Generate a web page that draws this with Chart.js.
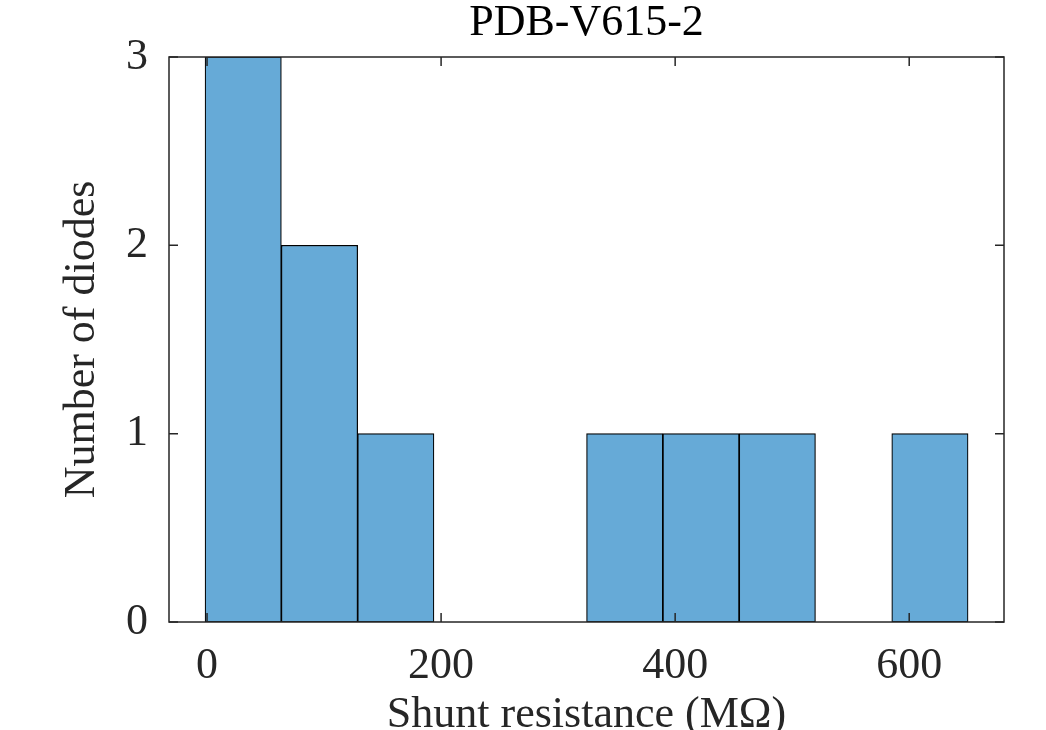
<!DOCTYPE html>
<html lang="en">
  <head>
    <meta charset="UTF-8" />
    <title>PDB-V615-2</title>
    <style>
      body {
        margin: 0;
        background: #fff;
      }
      .chart-box {
        width: 1046px;
        height: 730px;
      }
    </style>
  </head>
  <body>
    <div class="chart-box">
      <canvas id="histChart"></canvas>
    </div>

    <script src="https://cdn.jsdelivr.net/npm/chart.js"></script>
    <script>
      // histogram bins (shunt resistance, MOhm) and counts per bin
      const binEdges = [-1.7, 63.5, 128.7, 193.9, 259.1, 324.3, 389.5, 454.7, 519.9, 585.1, 650.3];
      const counts = [3, 2, 1, 0, 0, 1, 1, 1, 0, 1];
      const xTicks = [0, 200, 400, 600];
      const yTicks = [0, 1, 2, 3];

      const titleText = "PDB-V615-2";
      const xLabel = "Shunt resistance (M\u03A9)";
      const yLabel = "Number of diodes";

      const axisColor = "#262626";
      const fontFamily = "'Liberation Serif', 'Times New Roman', serif";

      const points = counts.map((c, i) => ({
        x: (binEdges[i] + binEdges[i + 1]) / 2,
        y: c > 0 ? c : null,
      }));

      // box around the plot, inward ticks on all four sides, title over the plot
      const matlabAxes = {
        id: "matlabAxes",
        afterDraw(chart) {
          const { ctx, chartArea: a, scales } = chart;
          const len = 9;
          ctx.save();
          ctx.strokeStyle = axisColor;
          ctx.lineWidth = 1.5;
          ctx.strokeRect(a.left, a.top, a.right - a.left, a.bottom - a.top);
          ctx.beginPath();
          xTicks.forEach((v) => {
            const px = scales.x.getPixelForValue(v);
            ctx.moveTo(px, a.bottom);
            ctx.lineTo(px, a.bottom - len);
            ctx.moveTo(px, a.top);
            ctx.lineTo(px, a.top + len);
          });
          yTicks.forEach((v) => {
            const py = scales.y.getPixelForValue(v);
            ctx.moveTo(a.left, py);
            ctx.lineTo(a.left + len, py);
            ctx.moveTo(a.right, py);
            ctx.lineTo(a.right - len, py);
          });
          ctx.stroke();

          ctx.fillStyle = "#000";
          ctx.font = "44px " + fontFamily;
          ctx.textAlign = "center";
          ctx.textBaseline = "alphabetic";
          ctx.fillText(titleText, (a.left + a.right) / 2, 35);
          ctx.restore();
        },
      };

      const ctx = document.getElementById("histChart").getContext("2d");
      new Chart(ctx, {
        type: "bar",
        data: {
          datasets: [
            {
              label: "Count",
              data: points,
              backgroundColor: "#66aad7",
              borderColor: "#000",
              borderWidth: 1.2,
              borderSkipped: false,
              barPercentage: 1,
              categoryPercentage: 1,
            },
          ],
        },
        options: {
          responsive: true,
          maintainAspectRatio: false,
          animation: false,
          layout: {
            padding: { top: 57, right: 42, left: 0, bottom: 0 },
          },
          plugins: {
            legend: { display: false },
            tooltip: { enabled: false },
          },
          scales: {
            x: {
              type: "linear",
              offset: false,
              min: -32.5,
              max: 681,
              afterFit: (s) => {
                s.height = 108;
              },
              afterBuildTicks: (s) => {
                s.ticks = xTicks.map((v) => ({ value: v }));
              },
              grid: { display: false, drawTicks: false, offset: false },
              border: { display: false },
              ticks: {
                color: axisColor,
                font: { family: fontFamily, size: 44 },
                padding: 18,
                maxRotation: 0,
              },
              title: {
                display: true,
                text: xLabel,
                color: axisColor,
                font: { family: fontFamily, size: 44, lineHeight: 1 },
                padding: { top: 0, bottom: -7 },
              },
            },
            y: {
              min: 0,
              max: 3,
              afterFit: (s) => {
                s.width = 169;
              },
              afterBuildTicks: (s) => {
                s.ticks = yTicks.map((v) => ({ value: v }));
              },
              grid: { display: false, drawTicks: false },
              border: { display: false },
              ticks: {
                color: axisColor,
                font: { family: fontFamily, size: 44 },
                padding: 21,
              },
              title: {
                display: true,
                text: yLabel,
                color: axisColor,
                font: { family: fontFamily, size: 44, lineHeight: 1 },
                padding: { top: 60, bottom: 0 },
              },
            },
          },
        },
        plugins: [matlabAxes],
      });
    </script>
  </body>
</html>
